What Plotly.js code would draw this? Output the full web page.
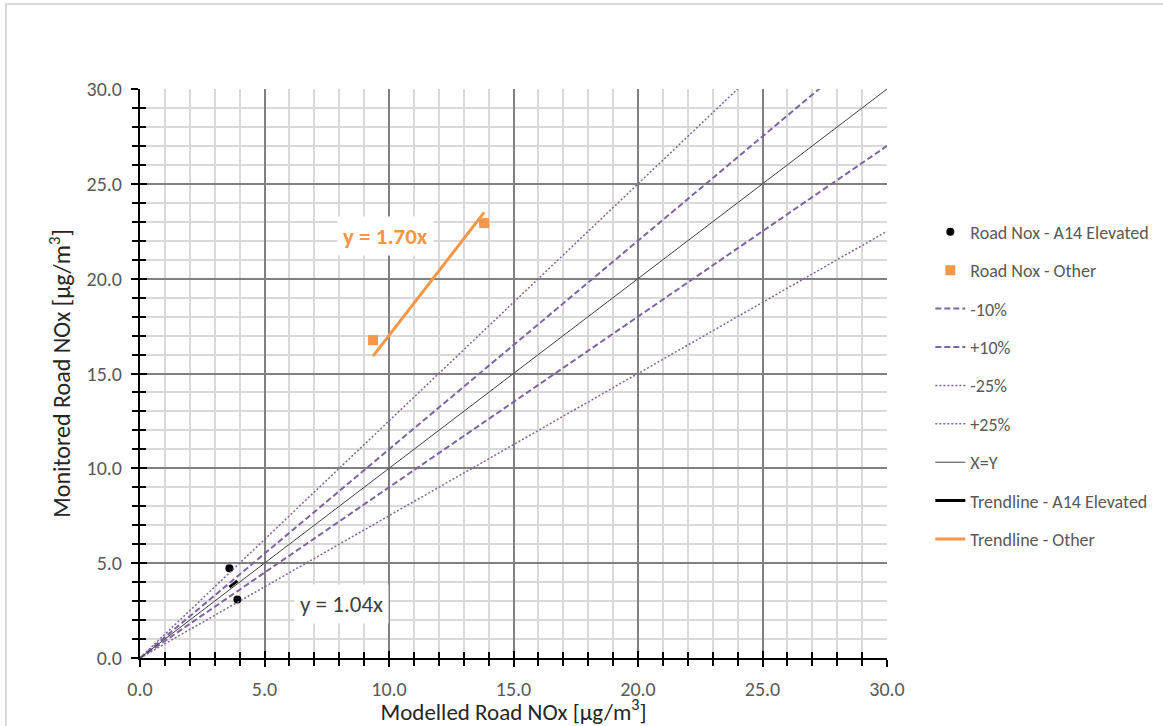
<!DOCTYPE html>
<html>
<head>
<meta charset="utf-8">
<script src="https://cdn.plot.ly/plotly-3.0.1.min.js"></script>
<style>html,body{margin:0;padding:0;background:#fff;}#chart{width:1163px;height:726px;}</style>
</head>
<body>
<div id="chart"></div>
<script>
// ---- data ----
const a14X = [3.59, 3.91];
const a14Y = [4.73, 3.09];
const otherX = [9.36, 13.82];
const otherY = [16.76, 22.93];
const a14Slope = 1.04;
const otherSlope = 1.70;
const bandNames = ["-10%", "+10%", "-25%", "+25%", "X=Y"];
const bandFactors = [0.9, 1.1, 0.75, 1.25, 1.0];
const axisRange = [0, 30];
const tickVals = [0, 5, 10, 15, 20, 25, 30];
const tickText = ["0.0", "5.0", "10.0", "15.0", "20.0", "25.0", "30.0"];

const FONT = "Carlito, Lato, 'Open Sans', sans-serif";
const purple = "#8064A2";
const orange = "#F79646";

function lineThrough(xs, k) { return xs.map(x => k * x); }
const trX = arr => [Math.min(...arr), Math.max(...arr)];

const bandStyles = {
  "-10%": {color: purple, width: 2, dash: "6px,3px"},
  "+10%": {color: purple, width: 2, dash: "6px,3px"},
  "-25%": {color: purple, width: 1.5, dash: "2px,2px"},
  "+25%": {color: purple, width: 1.5, dash: "2px,2px"},
  "X=Y": {color: "#404040", width: 1}
};

const traces = [];
traces.push({x: a14X, y: a14Y, type: "scatter", mode: "markers", name: "Road Nox - A14 Elevated",
  marker: {color: "#000", size: 8, symbol: "circle"}, legendgroup: "g1"});
traces.push({x: otherX, y: otherY, type: "scatter", mode: "markers", name: "Road Nox - Other",
  marker: {color: orange, size: 10, symbol: "square"}, legendgroup: "g2"});
bandNames.forEach((n, i) => {
  traces.push({x: axisRange, y: lineThrough(axisRange, bandFactors[i]), type: "scatter", mode: "lines",
    name: n, line: bandStyles[n], legendgroup: "b" + i});
});
const ta = trX(a14X), to = trX(otherX);
traces.push({x: ta, y: lineThrough(ta, a14Slope), type: "scatter", mode: "lines", name: "Trendline - A14 Elevated",
  line: {color: "#000", width: 3}, legendgroup: "t1"});
traces.push({x: to, y: lineThrough(to, otherSlope), type: "scatter", mode: "lines", name: "Trendline - Other",
  line: {color: orange, width: 3}, legendgroup: "t2"});
// overlay axis for inner half of crossing ticks
traces.push({x: [], y: [], xaxis: "x2", yaxis: "y2", showlegend: false, hoverinfo: "skip"});

const tickFont = {family: FONT, size: 20, color: "#595959"};
const axisCommon = {
  range: axisRange, tickvals: tickVals, ticktext: tickText, tickfont: tickFont,
  showline: true, linecolor: "#000", linewidth: 2, zeroline: false,
  ticks: "outside", ticklen: 7, tickwidth: 2, tickcolor: "#000",
  showgrid: true, gridcolor: "#808080", gridwidth: 2,
  minor: {dtick: 1, ticks: "outside", ticklen: 6, tickwidth: 2, tickcolor: "#000",
    showgrid: true, gridcolor: "#d9d9d9", gridwidth: 2},
  ticklabelstandoff: 5, fixedrange: true, automargin: false
};
const overlayCommon = {
  range: axisRange, tickvals: tickVals, showticklabels: false, showline: false, zeroline: false,
  showgrid: false, ticks: "inside", ticklen: 7, tickwidth: 2, tickcolor: "#000",
  minor: {dtick: 1, ticks: "inside", ticklen: 6, tickwidth: 2, tickcolor: "#000", showgrid: false},
  fixedrange: true
};

const layout = {
  width: 1163, height: 726,
  margin: {l: 140, r: 276, t: 89, b: 68, autoexpand: false},
  paper_bgcolor: "#fff", plot_bgcolor: "#fff",
  font: {family: FONT, color: "#595959"},
  showlegend: true,
  xaxis: Object.assign({}, axisCommon, {
    title: {text: "Modelled Road NOx [µg/m<sup>3</sup>]", font: {family: FONT, size: 23, color: "#262626"}, standoff: 13}
  }),
  yaxis: Object.assign({}, axisCommon, {
    title: {text: "Monitored Road NOx [µg/m<sup>3</sup>]", font: {family: FONT, size: 24, color: "#262626"}, standoff: 9}
  }),
  xaxis2: Object.assign({}, overlayCommon, {overlaying: "x", matches: "x"}),
  yaxis2: Object.assign({}, overlayCommon, {overlaying: "y", matches: "y"}),
  legend: {
    x: 1.058, y: 0.781, xanchor: "left", yanchor: "top",
    font: {family: FONT, size: 18, color: "#595959"},
    traceorder: "grouped", tracegroupgap: 12, bgcolor: "rgba(0,0,0,0)"
  },
  annotations: [
    {x: 9.84, y: 22.25, xref: "x", yref: "y", text: "<b>y = 1.70x</b>", showarrow: false,
      font: {family: FONT, size: 23, color: orange}, bgcolor: "#fff", borderpad: 5},
    {x: 8.11, y: 2.85, xref: "x", yref: "y", text: "y = 1.04x", showarrow: false,
      font: {family: FONT, size: 23, color: "#404040"}, bgcolor: "#fff", borderpad: 5}
  ],
  shapes: [
    {type: "rect", xref: "paper", yref: "paper", x0: -0.1794, x1: 1.38, y0: -0.15, y1: 1.1494,
      line: {color: "#d9d9d9", width: 2}, layer: "below"}
  ]
};

Plotly.newPlot("chart", traces, layout, {displayModeBar: false, staticPlot: true});
</script>
</body>
</html>
